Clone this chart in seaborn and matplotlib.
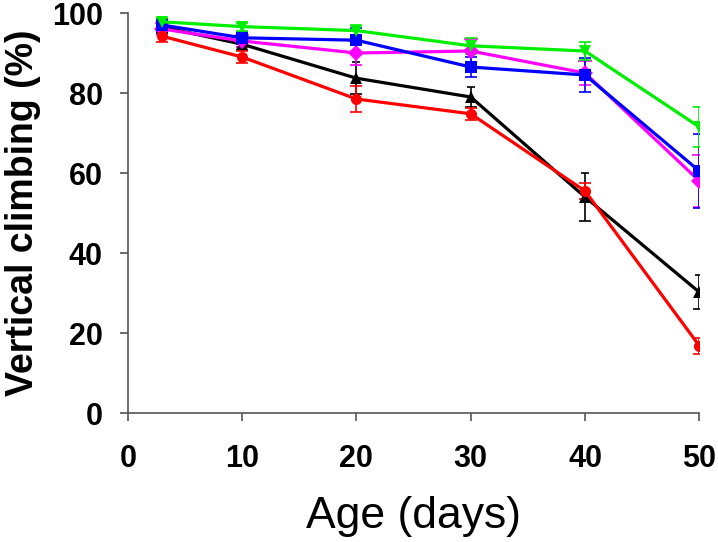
import pandas as pd
import matplotlib
matplotlib.use("Agg")
import matplotlib.pyplot as plt
import seaborn as sns

# --- données ---
age = [3, 10, 20, 30, 40, 50]

groupes = ["noir", "magenta", "bleu", "vert", "rouge"]

climb_noir = [96.5, 92.2, 83.7, 79.0, 54.0, 30.2]
climb_magenta = [96.0, 93.0, 90.0, 90.5, 85.0, 58.0]
climb_bleu = [97.0, 93.8, 93.2, 86.5, 84.5, 60.5]
climb_vert = [97.8, 96.6, 95.6, 91.8, 90.5, 71.5]
climb_rouge = [94.2, 89.0, 78.5, 74.8, 55.5, 16.8]

err_noir = [1.5, 1.5, 4.0, 2.5, 6.0, 4.2]
err_magenta = [1.5, 1.5, 3.0, 3.0, 3.0, 6.5]
err_bleu = [1.5, 1.5, 3.0, 2.5, 4.3, 9.3]
err_vert = [1.0, 1.0, 1.5, 2.0, 2.2, 5.0]
err_rouge = [1.5, 1.5, 3.2, 1.5, 2.0, 2.0]

couleurs = {"noir": "#000000", "magenta": "#ff00ff", "bleu": "#0000ff",
            "vert": "#00ee00", "rouge": "#ff0000"}
marqueurs = {"noir": "^", "magenta": "D", "bleu": "s", "vert": "v", "rouge": "o"}
tailles = {"noir": 9, "magenta": 6, "bleu": 9, "vert": 10, "rouge": 9}

valeurs = {"noir": climb_noir, "magenta": climb_magenta, "bleu": climb_bleu,
           "vert": climb_vert, "rouge": climb_rouge}
erreurs = {"noir": err_noir, "magenta": err_magenta, "bleu": err_bleu,
           "vert": err_vert, "rouge": err_rouge}

rows = []
for g in groupes:
    for a, v, e in zip(age, valeurs[g], erreurs[g]):
        rows.append({"Age": a, "Climb": v, "Err": e, "Groupe": g})
df = pd.DataFrame(rows)

sns.set_theme(style="ticks")
plt.rcParams["font.family"] = ["Liberation Sans", "DejaVu Sans"]
plt.rcParams["text.color"] = "black"
plt.rcParams["axes.labelcolor"] = "black"

fig = plt.figure(figsize=(7.18, 5.42), dpi=100)
ax = fig.add_axes([0.178, 0.238, 0.796, 0.738])

for g in groupes:
    d = df[df["Groupe"] == g]
    ax.errorbar(d["Age"], d["Climb"], yerr=d["Err"], fmt="none",
                ecolor=couleurs[g], elinewidth=1.2, capsize=4, capthick=1.2, zorder=2)

sns.lineplot(data=df, x="Age", y="Climb", hue="Groupe", style="Groupe",
             palette=couleurs, markers=marqueurs, dashes=False,
             linewidth=2.3, markersize=8, markeredgewidth=0,
             legend=False, ax=ax, zorder=3)

for line, g in zip(ax.lines, groupes):
    line.set_markersize(tailles[g])

ax.set_xlim(0, 50)
ax.set_ylim(0, 100)
ax.set_xticks([0, 10, 20, 30, 40, 50])
ax.set_yticks([0, 20, 40, 60, 80, 100])
ax.spines["top"].set_visible(False)
ax.spines["right"].set_visible(False)
for s in ["left", "bottom"]:
    ax.spines[s].set_color("#555555")
    ax.spines[s].set_linewidth(1.2)
ax.tick_params(axis="both", direction="out", length=6, width=1.2, color="#555555",
               labelcolor="black", labelsize=22)
ax.tick_params(axis="x", pad=16)
ax.tick_params(axis="y", pad=12)
for lab in ax.get_xticklabels() + ax.get_yticklabels():
    lab.set_fontweight("bold")

ax.set_xlabel("Age (days)", fontsize=32, fontweight="medium", labelpad=16)
ax.set_ylabel("Vertical climbing (%)", fontsize=27, fontweight="bold", labelpad=8)

plt.savefig("out.png", dpi=100)
